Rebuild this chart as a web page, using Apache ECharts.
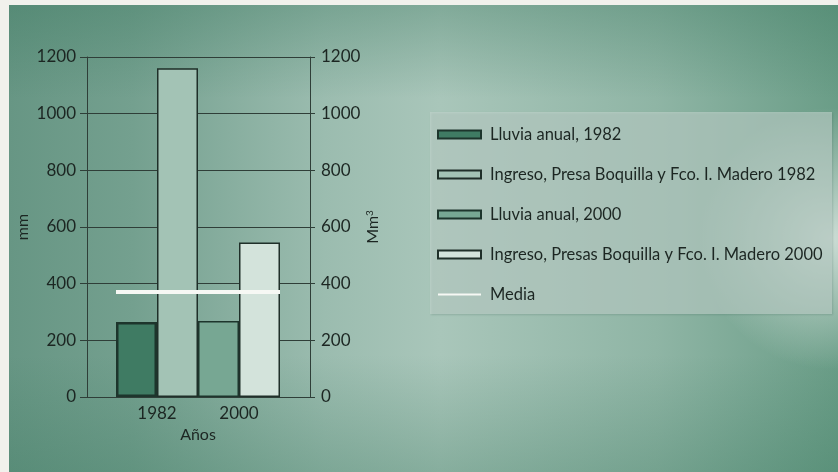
<!DOCTYPE html>
<html>
<head>
<meta charset="utf-8">
<script src="https://cdn.jsdelivr.net/npm/echarts@6/dist/echarts.min.js"></script>
<style>
  html, body { margin: 0; padding: 0; background: #f1f1ec; }
  #chart { width: 838px; height: 472px; }
</style>
</head>
<body>
<div id="chart"></div>
<script>
// Años comparados
const years = ['1982', '2000'];
// Lluvia anual (mm), eje izquierdo
const lluviaAnual = [265, 268];
// Ingreso a las presas (Mm³), eje derecho
const ingresoPresas = [1160, 545];
// Media de lluvia (mm)
const media = 372;
// Escala de ambos ejes
const axisMin = 0, axisMax = 1200, axisStep = 200;

const lluviaNames = ['Lluvia anual, 1982', 'Lluvia anual, 2000'];
const ingresoNames = ['Ingreso, Presa Boquilla y Fco. I. Madero 1982',
                      'Ingreso, Presas Boquilla y Fco. I. Madero 2000'];
const lluviaColors = ['#3f7b63', '#77a793'];
const ingresoColors = ['#a3c3b5', '#d3e3db'];

const FONT = 'Lato, "Open Sans", sans-serif';
const INK = '#1c2622';
const RULE = '#2f3e38';

// one series per legend entry; each holds a value only in its own year
function onlyAt(values, i) {
  return years.map((_, j) => (j === i ? values[j] : '-'));
}

const series = [];
years.forEach((y, i) => {
  series.push({
    name: lluviaNames[i], type: 'bar', xAxisIndex: 1, yAxisIndex: 2,
    stack: 'lluvia', barWidth: 41, barGap: '0%',
    data: onlyAt(lluviaAnual, i),
    itemStyle: { color: lluviaColors[i], borderColor: '#1d352c', borderWidth: i === 0 ? 2.5 : 1.5 }
  });
  series.push({
    name: ingresoNames[i], type: 'bar', xAxisIndex: 1, yAxisIndex: 2,
    stack: 'ingreso', barWidth: 41, barGap: '0%',
    data: onlyAt(ingresoPresas, i),
    itemStyle: { color: ingresoColors[i], borderColor: '#1f2f29', borderWidth: 1.5 }
  });
});
// white rule for the average rainfall
series.push({
  name: 'Media', type: 'line', xAxisIndex: 1, yAxisIndex: 2,
  data: years.map(() => '-'),
  lineStyle: { color: '#f6f8f4' }, itemStyle: { color: '#f6f8f4' },
  markLine: {
    silent: true, symbol: 'none', label: { show: false },
    lineStyle: { color: '#f6f8f4', width: 4, type: 'solid' },
    data: [{ yAxis: media }]
  }
});

const legendData = [
  { name: lluviaNames[0], icon: 'rect' },
  { name: ingresoNames[0], icon: 'rect' },
  { name: lluviaNames[1], icon: 'rect' },
  { name: ingresoNames[1], icon: 'rect' },
  { name: 'Media', icon: 'path://M0,0L40,0L40,2L0,2Z', itemStyle: { color: '#f6f8f4', borderWidth: 0 } }
];

const valueAxisCommon = {
  type: 'value', min: axisMin, max: axisMax, interval: axisStep,
  axisLine: { show: true, lineStyle: { color: RULE, width: 1 } },
  axisLabel: { color: INK, fontSize: 17, fontFamily: FONT, margin: 11, formatter: v => String(v) },
  nameLocation: 'middle', nameRotate: 90,
  nameTextStyle: { color: INK, fontSize: 16, fontFamily: FONT }
};

const chart = echarts.init(document.getElementById('chart'), null, { renderer: 'canvas' });
chart.setOption({
  animation: false,
  backgroundColor: '#f1f1ec',
  graphic: [
    { type: 'rect', z: -100, silent: true, shape: { x: 9, y: 5, width: 829, height: 467 },
      style: { fill: new echarts.graphic.LinearGradient(0, 0, 1, 0, [
        { offset: 0, color: '#679684' }, { offset: 0.15, color: '#74a08f' },
        { offset: 0.38, color: '#9bbcaf' }, { offset: 0.52, color: '#a9c6ba' },
        { offset: 0.78, color: '#8fb5a5' }, { offset: 1, color: '#6a9d87' }]) } },
    { type: 'rect', z: -99, silent: true, shape: { x: 9, y: 5, width: 829, height: 467 },
      style: { fill: new echarts.graphic.RadialGradient(0.99, 0.5, 0.28, [
        { offset: 0, color: 'rgba(222,232,227,0.85)' }, { offset: 1, color: 'rgba(222,232,227,0)' }]) } },
    { type: 'rect', z: -98, silent: true, shape: { x: 9, y: 5, width: 829, height: 467 },
      style: { fill: new echarts.graphic.LinearGradient(0, 0, 0, 1, [
        { offset: 0, color: 'rgba(55,118,92,0.35)' }, { offset: 0.2, color: 'rgba(55,118,92,0)' },
        { offset: 0.75, color: 'rgba(55,118,92,0)' }, { offset: 1, color: 'rgba(55,118,92,0.3)' }]) } },
    { type: 'rect', z: -97, silent: true, shape: { x: 430, y: 112, width: 402, height: 202 },
      style: { fill: 'rgba(196,214,206,0.6)', shadowColor: 'rgba(40,80,65,0.35)', shadowBlur: 2, shadowOffsetX: 1, shadowOffsetY: 1 } }
  ],
  legend: {
    orient: 'vertical', left: 437, top: 125, padding: 0,
    itemWidth: 43, itemHeight: 8, itemGap: 21,
    data: legendData,
    selectedMode: false,
    textStyle: { color: INK, fontSize: 16.5, fontFamily: FONT, lineHeight: 19, padding: [0, 0, 0, 4] }
  },
  grid: [
    { left: 87, right: 528, top: 57, bottom: 75 },
    { left: 116, right: 558, top: 57, bottom: 75 }
  ],
  xAxis: [
    { type: 'value', gridIndex: 0, show: false },
    { type: 'category', gridIndex: 1, data: years,
      axisLine: { show: false }, axisTick: { show: false },
      axisLabel: { color: INK, fontSize: 17, fontFamily: FONT, margin: 8 },
      name: 'Años', nameLocation: 'middle', nameGap: 30,
      nameTextStyle: { color: INK, fontSize: 16, fontFamily: FONT } }
  ],
  yAxis: [
    Object.assign({}, valueAxisCommon, {
      gridIndex: 0, position: 'left', name: 'mm', nameGap: 56,
      axisTick: { show: true, length: 7, lineStyle: { color: RULE } },
      splitLine: { show: true, lineStyle: { color: RULE, width: 1 } }
    }),
    Object.assign({}, valueAxisCommon, {
      gridIndex: 0, position: 'right', name: 'Mm{sup|3}', nameGap: 50,
      nameTextStyle: { color: INK, fontSize: 16, fontFamily: FONT,
        rich: { sup: { fontSize: 10, verticalAlign: 'top', padding: [0, 0, 7, 0], color: INK, fontFamily: FONT } } },
      axisTick: { show: true, length: 5, lineStyle: { color: RULE } },
      splitLine: { show: false }
    }),
    { type: 'value', gridIndex: 1, min: axisMin, max: axisMax, interval: axisStep, show: false, splitLine: { show: false } }
  ],
  series: series
});
</script>
</body>
</html>
